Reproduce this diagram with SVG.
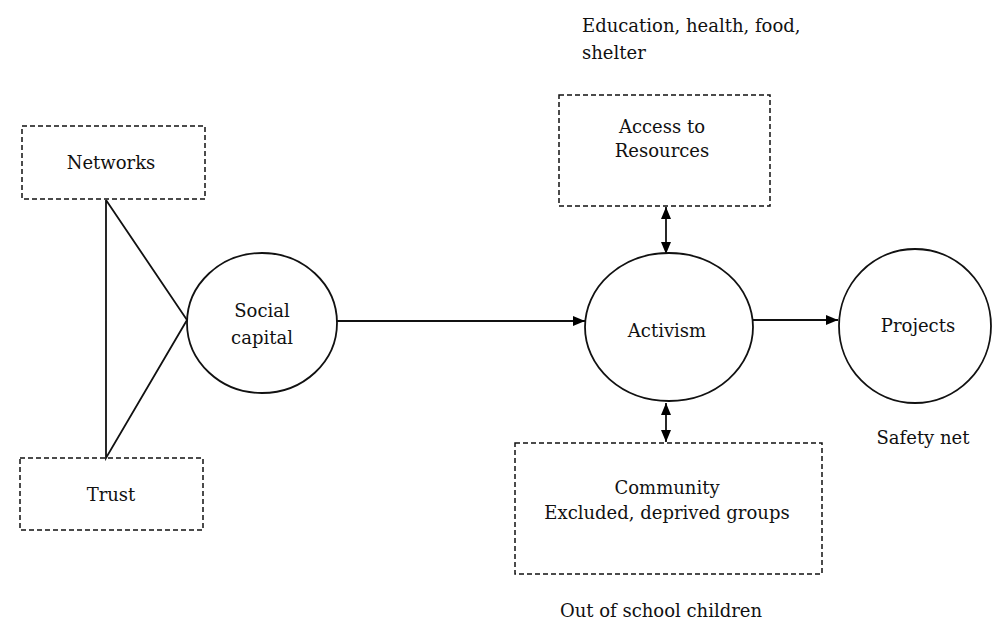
<svg xmlns="http://www.w3.org/2000/svg" width="992" height="623" viewBox="0 0 992 623">
<defs>
<marker id="ah" viewBox="0 0 12 10" refX="12" refY="5" markerWidth="12" markerHeight="10" markerUnits="userSpaceOnUse" orient="auto-start-reverse">
<path d="M0,0 L12,5 L0,10 Z" fill="#000"/>
</marker>
</defs>
<style>
.c{text-anchor:middle;}
.box{fill:none;stroke:#111;stroke-width:1.5;stroke-dasharray:5,3;}
.node{fill:#fff;stroke:#111;stroke-width:1.8;}
.ln{fill:none;stroke:#111;stroke-width:1.8;}
</style>
<rect width="992" height="623" fill="#fff"/>
<g id="connectors">
<polyline class="ln" points="106,200 106,458 187,320 106,200"/>
<line class="ln" x1="337" y1="321" x2="585" y2="321" marker-end="url(#ah)"/>
<line class="ln" x1="753" y1="320" x2="838" y2="320" marker-end="url(#ah)"/>
<line class="ln" x1="666" y1="207" x2="666" y2="254" marker-start="url(#ah)" marker-end="url(#ah)"/>
<line class="ln" x1="666" y1="403" x2="666" y2="442" marker-start="url(#ah)" marker-end="url(#ah)"/>
</g>
<g font-family="'DejaVu Serif', serif" font-size="18" fill="#111">
<g id="networks">
<rect class="box" x="22" y="126" width="183" height="73"/>
<text class="c" x="111" y="169">Networks</text>
</g>
<g id="trust">
<rect class="box" x="20" y="458" width="183" height="72"/>
<text class="c" x="111" y="501">Trust</text>
</g>
<g id="social-capital">
<ellipse class="node" cx="262" cy="323" rx="75" ry="70"/>
<text class="c" x="262" y="317">Social</text>
<text class="c" x="262" y="344">capital</text>
</g>
<g id="access">
<rect class="box" x="559" y="95" width="211" height="111"/>
<text class="c" x="662" y="133">Access to</text>
<text class="c" x="662" y="157">Resources</text>
</g>
<g id="activism">
<ellipse class="node" cx="669" cy="327" rx="84" ry="74"/>
<text class="c" x="667" y="337">Activism</text>
</g>
<g id="projects">
<ellipse class="node" cx="915" cy="326" rx="76" ry="77"/>
<text class="c" x="918" y="332">Projects</text>
</g>
<g id="community">
<rect class="box" x="515" y="443" width="307" height="131"/>
<text class="c" x="667" y="494">Community</text>
<text class="c" x="667" y="519">Excluded, deprived groups</text>
</g>
<g id="labels">
<text x="582" y="32">Education, health, food,</text>
<text x="582" y="59">shelter</text>
<text class="c" x="923" y="444">Safety net</text>
<text class="c" x="661" y="617">Out of school children</text>
</g>
</g>
</svg>
